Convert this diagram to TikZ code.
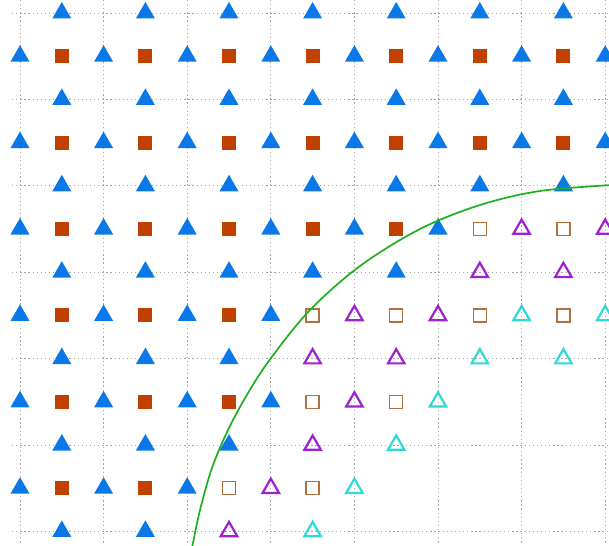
\documentclass[tikz,border=0pt]{standalone}
\usetikzlibrary{shapes.geometric}
\definecolor{triblue}{RGB}{10,120,230}
\definecolor{sqorange}{RGB}{192,64,0}
\definecolor{sqbrown}{RGB}{176,112,64}
\definecolor{tripurple}{RGB}{160,32,208}
\definecolor{tricyan}{RGB}{48,216,216}
\definecolor{curvegreen}{RGB}{30,176,30}
\definecolor{gridgray}{RGB}{165,165,165}
\tikzset{
  mk/.style={inner sep=0pt,outer sep=0pt},
  ftri/.style={mk,regular polygon,regular polygon sides=3,minimum size=22pt,fill=triblue},
  fsq/.style={mk,rectangle,minimum size=14pt,fill=sqorange},
  hsq/.style={mk,rectangle,minimum size=13pt,draw=sqbrown,line width=1.5pt},
  ptri/.style={mk,regular polygon,regular polygon sides=3,minimum size=19pt,draw=tripurple,line width=2.2pt},
  ctri/.style={mk,regular polygon,regular polygon sides=3,minimum size=19pt,draw=tricyan,line width=2.2pt},
  gridline/.style={gridgray,dash pattern=on 1.3pt off 2.8pt,line width=0.8pt},
  boundary/.style={curvegreen,line width=1.7pt}
}
\begin{document}
\begin{tikzpicture}[x=1pt,y=-1pt]
\useasboundingbox (0,0) rectangle (609,545);
\fill[white] (0,0) rectangle (609,545);
\clip (0,0) rectangle (609,545);
% grid
\foreach \k in {0,...,7} {
  \draw[gridline] ({20+83.6*\k},0) -- ({20+83.6*\k},545);
}
\foreach \k in {0,...,6} {
  \draw[gridline] (12,{13+86.4*\k}) -- (609,{13+86.4*\k});
}
% filled markers
\foreach \j/\m in {0/14,1/14,2/14,3/14,4/14,5/10,6/9,7/6,8/5,9/6,10/5,11/4,12/3} {
  \foreach \i in {0,...,\m} {
    \pgfmathtruncatemacro\s{\i+\j}
    \ifodd\s\relax
      \node[ftri] (f-\i-\j) at ({20+41.8*\i},{13+43.2*\j}) {};
    \else
      \ifodd\i\relax
        \node[fsq] (f-\i-\j) at ({20+41.8*\i},{13+43.2*\j}) {};
      \fi
    \fi
  }
}
% hollow squares
\foreach \i/\j in {11/5,13/5,7/7,9/7,11/7,13/7,7/9,9/9,5/11,7/11} {
  \node[hsq] (h-\i-\j) at ({20+41.8*\i},{13+43.2*\j}) {};
}
% purple triangles
\foreach \i/\j in {12/5,14/5,11/6,13/6,8/7,10/7,7/8,9/8,8/9,7/10,6/11,5/12} {
  \node[ptri] (p-\i-\j) at ({20+41.8*\i},{13+43.2*\j}) {};
}
% cyan triangles
\foreach \i/\j in {12/7,14/7,11/8,13/8,10/9,9/10,8/11,7/12} {
  \node[ctri] (c-\i-\j) at ({20+41.8*\i},{13+43.2*\j}) {};
}
% boundary curve
\draw[boundary] plot[smooth,tension=0.55] coordinates {
  (192,548) (200,510) (212,468) (228,430) (248,393) (271,358) (310,310)
  (360,266) (420,229) (480,205) (540,191) (612,185)};
\end{tikzpicture}
\end{document}
